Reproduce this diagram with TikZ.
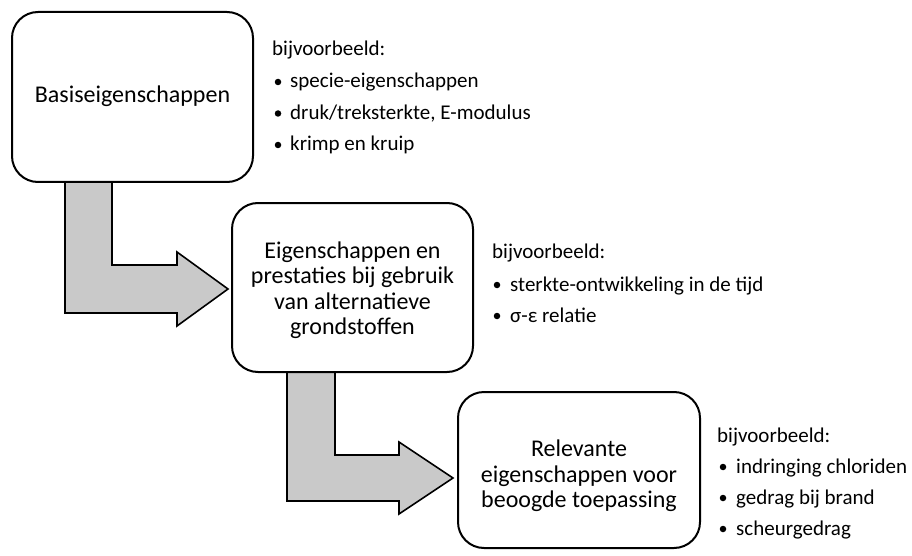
\documentclass[tikz,border=0pt]{standalone}
\usepackage{fontspec}
\setmainfont{Carlito}
\begin{document}
\begin{tikzpicture}[x=1pt,y=-1pt,
  box/.style={draw=black,line width=2pt,rounded corners=26pt,fill=white,inner sep=0pt},
  boxtext/.style={align=center,font=\fontsize{24}{25.5}\selectfont,inner sep=0pt},
  bent/.style={draw=black,line width=1.6pt,fill=black!21,line join=miter},
  note/.style={anchor=base west,inner sep=0pt,font=\fontsize{21}{25}\selectfont},
  dot/.style={circle,fill=black,inner sep=0pt,minimum size=6.5pt}]
\useasboundingbox (0,0) rectangle (912,556);
% arrows
\draw[bent] (65,175) -- (65,313) -- (177,313) -- (177,326) -- (228,289) -- (177,252) -- (177,265) -- (112,265) -- (112,175) -- cycle;
\draw[bent] (287,365) -- (287,501) -- (399,501) -- (399,514) -- (453,478) -- (399,442) -- (399,455) -- (335,455) -- (335,365) -- cycle;
% boxes
\node[box,minimum width=241pt,minimum height=170pt] (b1) at (132.5,97) {};
\node[boxtext] (l1) at (132.5,96) {Basiseigenschappen};
\node[box,minimum width=241pt,minimum height=169pt] (b2) at (352.5,287.5) {};
\node[boxtext] (l2) at (352.5,290) {Eigenschappen en\\prestaties bij gebruik\\van alternatieve\\grondstoffen};
\node[box,minimum width=242pt,minimum height=156pt] (b3) at (579,470) {};
\node[boxtext] (l3) at (579,476) {Relevante\\eigenschappen voor\\beoogde toepassing};
% notes 1
\node[note] (n1) at (272,56) {bijvoorbeeld:};
\node[dot] (d11) at (278,82) {};
\node[note] (t11) at (290,88) {specie-eigenschappen};
\node[dot] (d12) at (278,113.5) {};
\node[note] (t12) at (290,119.5) {druk/treksterkte, E-modulus};
\node[dot] (d13) at (278,145) {};
\node[note] (t13) at (290,151) {krimp en kruip};
% notes 2
\node[note] (n2) at (492,258) {bijvoorbeeld:};
\node[dot] (d21) at (497,285) {};
\node[note] (t21) at (510,291) {sterkte-ontwikkeling in de tijd};
\node[dot] (d22) at (497,316) {};
\node[note] (t22) at (510,322) {σ-ε relatie};
% notes 3
\node[note] (n3) at (717,442) {bijvoorbeeld:};
\node[dot] (d31) at (723,467) {};
\node[note] (t31) at (736,473) {indringing chloriden};
\node[dot] (d32) at (723,498) {};
\node[note] (t32) at (736,504) {gedrag bij brand};
\node[dot] (d33) at (723,529) {};
\node[note] (t33) at (736,535) {scheurgedrag};
\end{tikzpicture}
\end{document}
